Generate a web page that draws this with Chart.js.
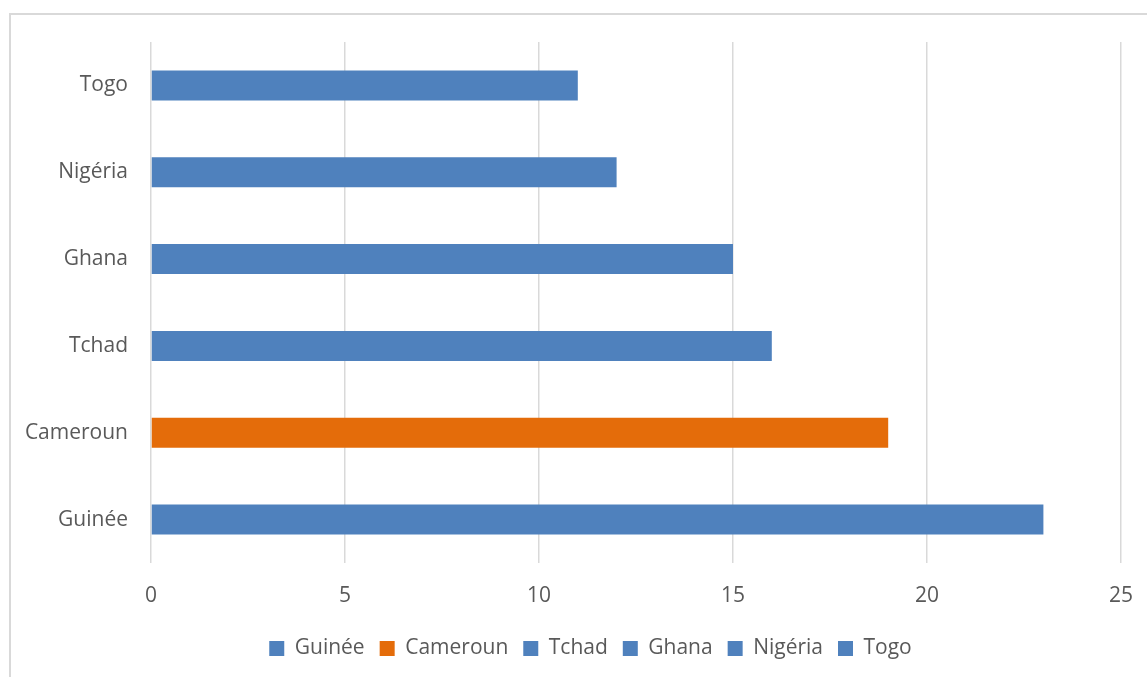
<!DOCTYPE html>
<html lang="fr">
<head>
<meta charset="utf-8">
<title>Pays</title>
<script src="https://cdn.jsdelivr.net/npm/chart.js@4.4.1/dist/chart.umd.min.js"></script>
<style>
  html, body { margin: 0; padding: 0; background: #ffffff; }
  #wrap { position: relative; width: 1147px; height: 677px; }
</style>
</head>
<body>
<div id="wrap"><canvas id="chart"></canvas></div>
<script>
// Countries, listed from the bottom bar upwards
const countries = ['Guinée', 'Cameroun', 'Tchad', 'Ghana', 'Nigéria', 'Togo'];
const values = [23, 19, 16, 15, 12, 11];
const xTicks = [0, 5, 10, 15, 20, 25];

const BLUE = '#4f81bd';
const ORANGE = '#e46c0a';
const barColors = countries.map(c => c === 'Cameroun' ? ORANGE : BLUE);

const TEXT = '#595959';
const GRID = '#d9d9d9';
const FONT = { family: '"Open Sans", sans-serif', size: 21 };

// Light frame around the chart area
const framePlugin = {
  id: 'frame',
  beforeDraw(chart) {
    const ctx = chart.ctx;
    ctx.save();
    ctx.fillStyle = '#ffffff';
    ctx.fillRect(0, 0, chart.width, chart.height);
    ctx.fillStyle = GRID;
    ctx.fillRect(9, 13, chart.width - 9, 2);
    ctx.fillRect(9, 13, 2, chart.height - 13);
    ctx.restore();
  }
};

// Centre the legend row on the whole frame rather than the padded area
const legendShift = {
  id: 'legendShift',
  afterLayout(chart) {
    const lg = chart.legend;
    if (!lg) return;
    const dx = 30;
    lg.left += dx;
    lg.right += dx;
    if (lg.legendHitBoxes) lg.legendHitBoxes.forEach(b => { b.left += dx; });
  }
};

new Chart(document.getElementById('chart'), {
  type: 'bar',
  data: {
    labels: countries,
    datasets: [{
      data: values,
      backgroundColor: barColors,
      borderWidth: 0,
      barPercentage: 0.346,
      categoryPercentage: 1
    }]
  },
  options: {
    indexAxis: 'y',
    responsive: true,
    maintainAspectRatio: false,
    animation: false,
    layout: { padding: { top: 42, right: 26, bottom: 8, left: 0 } },
    scales: {
      x: {
        min: 0,
        max: 25,
        afterBuildTicks(scale) { scale.ticks = xTicks.map(v => ({ value: v })); },
        afterFit(scale) {
          scale.height = 60;
          scale.paddingLeft = 0;
          scale.paddingRight = 0;
        },
        grid: { color: GRID, lineWidth: 1.5, drawTicks: false },
        border: { display: false },
        ticks: { color: TEXT, font: FONT, padding: 20 }
      },
      y: {
        reverse: true,
        afterFit(scale) { scale.width = 151; },
        grid: { display: false, drawTicks: false },
        border: { display: false },
        ticks: { color: TEXT, font: FONT, padding: 23 }
      }
    },
    plugins: {
      tooltip: { enabled: false },
      legend: {
        position: 'bottom',
        onClick: () => {},
        labels: {
          color: TEXT,
          font: FONT,
          boxWidth: 15,
          boxHeight: 15,
          padding: 15,
          generateLabels(chart) {
            return countries.map((c, i) => ({
              text: c,
              fillStyle: barColors[i],
              strokeStyle: barColors[i],
              lineWidth: 0,
              fontColor: TEXT,
              hidden: false,
              index: i
            }));
          }
        }
      }
    }
  },
  plugins: [framePlugin, legendShift]
});
</script>
</body>
</html>
